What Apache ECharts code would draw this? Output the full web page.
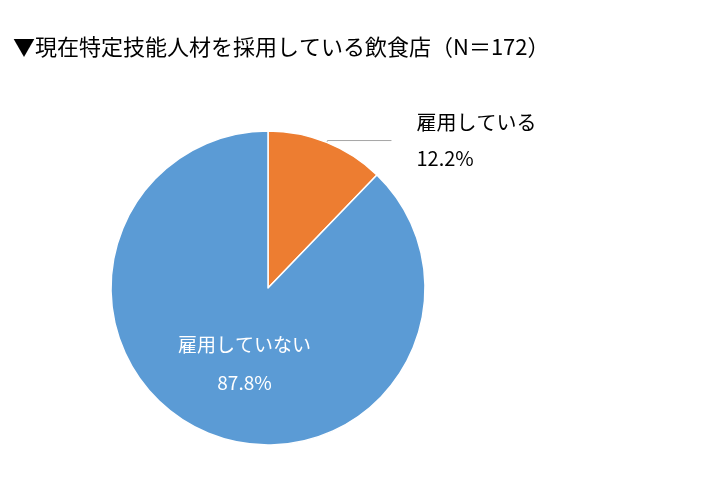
<!DOCTYPE html>
<html><head><meta charset="utf-8">
<script src="https://cdn.jsdelivr.net/npm/echarts@6/dist/echarts.min.js"></script>
<style>html,body{margin:0;background:#fff}#c{width:716px;height:484px}</style>
</head><body><div id="c"></div>
<script>
const categories = ['雇用している', '雇用していない'];
const shares = [12.2, 87.8];
const colors = ['#ED7D31', '#5B9BD5'];

const chart = echarts.init(document.getElementById('c'));
const font = '"Noto Sans CJK JP", sans-serif';
chart.setOption({
  title: {
    text: '▼現在特定技能人材を採用している飲食店（N＝172）',
    left: 8, top: 31,
    textStyle: { fontFamily: font, fontSize: 22, fontWeight: 'normal', color: '#000' }
  },
  series: [{
    type: 'pie',
    center: [268, 288],
    radius: 157,
    startAngle: 90,
    clockwise: true,
    animation: false,
    itemStyle: { borderColor: '#fff', borderWidth: 1.5 },
    data: categories.map((name, i) => ({
      name, value: shares[i],
      itemStyle: { color: colors[i] },
      label: i === 0 ? {
        show: true, position: 'outside', color: '#000',
        fontFamily: font, fontSize: 20, lineHeight: 36, align: 'center',
        padding: [0, 0, 30, 20],
        formatter: p => p.name + '\n' + p.value.toFixed(1) + '%'
      } : {
        show: true, position: 'inside', color: '#fff',
        fontFamily: font, fontSize: 19, lineHeight: 38, align: 'center',
        padding: [0, 0, 26, 14],
        formatter: p => p.name + '\n' + p.value.toFixed(1) + '%'
      },
      labelLine: i === 0 ? { show: true, length: 2, length2: 64, lineStyle: { color: '#a6a6a6', width: 1 } } : { show: false }
    }))
  }]
});
</script></body></html>
